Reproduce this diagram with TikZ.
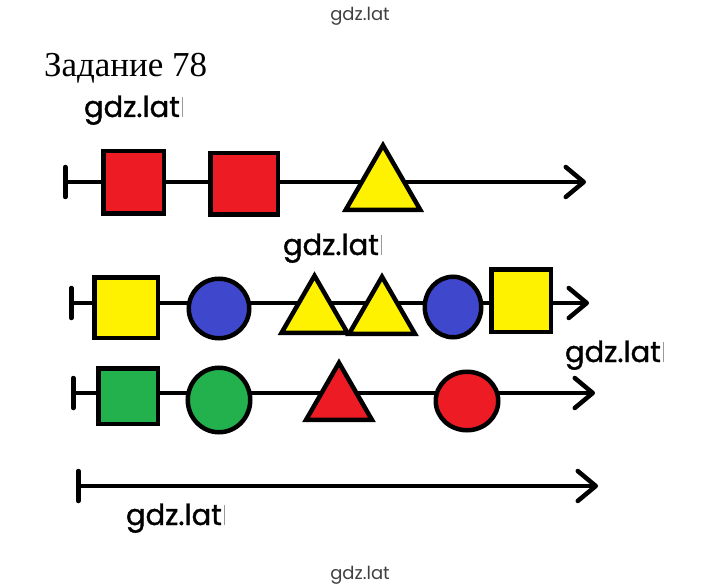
\documentclass[tikz,border=0pt]{standalone}
\usepackage{fontspec}
\setmainfont{Liberation Serif}
\newfontfamily\wmfont{Poppins}
\newfontfamily\wmfontb{Poppins}[FakeBold=1.2]
\usetikzlibrary{shapes.geometric,arrows.meta}
\definecolor{pred}{HTML}{ED1C24}
\definecolor{pyellow}{HTML}{FFF200}
\definecolor{pblue}{HTML}{3F48CC}
\definecolor{pgreen}{HTML}{22B14C}
\begin{document}
\begin{tikzpicture}[
    x=1pt, y=-1pt,
    every node/.style={draw, line width=4.5pt, inner sep=0pt, outer sep=0pt},
    sq/.style={rectangle},
    circ/.style={ellipse},
    tri/.style={regular polygon, regular polygon sides=3, anchor=south},
    axis/.style={line width=4.5pt, {Bar[width=30pt,round]}-{Straight Barb[length=18pt,width=30pt,round]}},
    wm/.style={draw=none, anchor=base west, font=\wmfontb\fontsize{29}{29}\selectfont},
    wmsmall/.style={draw=none, anchor=base, text=black!75, font=\wmfont\fontsize{18}{18}\selectfont},
]
  \useasboundingbox (0,0) rectangle (720,588);
  \node [wmsmall]  (t0) at (360,21)   {gdz.lat};
  \node [draw=none, anchor=base west, font=\fontsize{35}{40}\selectfont]
                   (h)  at (44,77)    {Задание 78};
  \node [wm]       (w1) at (84,117)   {gdz.lat\kern2pt{\color{black!40}\rule{1pt}{0.7em}}};

  % first line
  \coordinate (a1) at (63,182);
  \coordinate (z1) at (586,182);
  \draw [axis] (a1) -- (z1);
  \node [sq, fill=pred, minimum width=60.5pt, minimum height=62.5pt]  (r1) at (133.5,182.5) {};
  \node [sq, fill=pred, minimum width=67.5pt, minimum height=61.5pt]  (r2) at (244,184)     {};
  \node [tri, fill=pyellow, minimum size=86pt]                       (y1) at (383,209.8)   {};

  \node [wm]       (w2) at (283,255)  {gdz.lat\kern2pt{\color{black!40}\rule{1pt}{0.7em}}};

  % second line
  \coordinate (a2) at (69,303);
  \coordinate (z2) at (589,303);
  \draw [axis] (a2) -- (z2);
  \node [sq, fill=pyellow, minimum width=63.5pt, minimum height=60.5pt]  (y2) at (126,307.5)   {};
  \node [circ, fill=pblue, minimum width=60.5pt, minimum height=59.5pt]  (b1) at (219,308.5)   {};
  \node [tri, fill=pyellow, minimum size=76pt]                           (y3) at (314.5,332.8) {};
  \node [tri, fill=pyellow, minimum size=76pt]                           (y4) at (382,333.8)   {};
  \node [circ, fill=pblue, minimum width=56.5pt, minimum height=60.5pt]  (b2) at (453,307)     {};
  \node [sq, fill=pyellow, minimum width=59.5pt, minimum height=62.5pt]  (y5) at (521,300.5)   {};

  \node [wm]       (w3) at (565,362)  {gdz.lat\kern2pt{\color{black!40}\rule{1pt}{0.7em}}};

  % third line
  \coordinate (a3) at (71,393);
  \coordinate (z3) at (595,393);
  \draw [axis] (a3) -- (z3);
  \node [sq, fill=pgreen, minimum width=59.5pt, minimum height=55.5pt]   (g1) at (128,396)     {};
  \node [circ, fill=pgreen, minimum width=62.5pt, minimum height=64.5pt] (g2) at (219,400)     {};
  \node [tri, fill=pred, minimum size=76pt]                              (r3) at (339,419.8)   {};
  \node [circ, fill=pred, minimum width=62.5pt, minimum height=58.5pt]   (r4) at (467,401)     {};

  % fourth line
  \coordinate (a4) at (76,486);
  \coordinate (z4) at (598,486);
  \draw [axis] (a4) -- (z4);

  \node [wm]       (w4) at (126,525)  {gdz.lat\kern2pt{\color{black!40}\rule{1pt}{0.7em}}};
  \node [wmsmall]  (t1) at (360,579)  {gdz.lat};
\end{tikzpicture}
\end{document}
